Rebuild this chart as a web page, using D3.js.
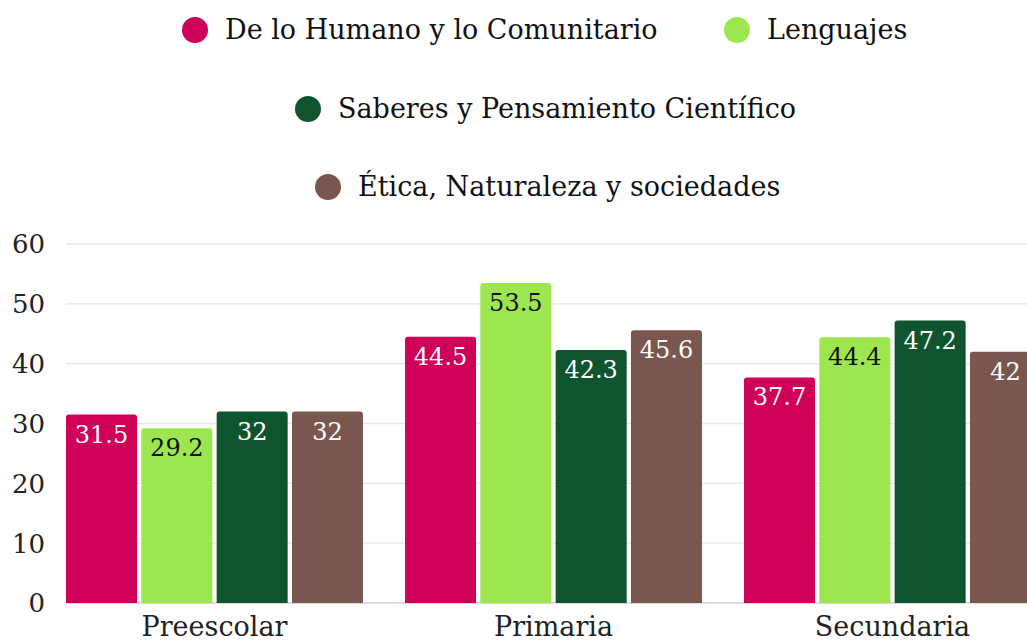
<!DOCTYPE html>
<html>
<head>
  <meta charset="utf-8">
  <title>Campos formativos por nivel</title>
  <style>
    body { margin: 0; background: #fff; }
    svg { display: block; font-family: "DejaVu Serif", serif; }
  </style>
</head>
<body>
  <script src="https://d3js.org/d3.v7.min.js"></script>
  <script>

var levels = ["Preescolar", "Primaria", "Secundaria"];
var series = ["De lo Humano y lo Comunitario", "Lenguajes", "Saberes y Pensamiento Científico", "Ética, Naturaleza y sociedades"];
var humano    = [31.5, 44.5, 37.7];
var lenguajes = [29.2, 53.5, 44.4];
var saberes   = [32, 42.3, 47.2];
var etica     = [32, 45.6, 42];
var yTicks = [0, 10, 20, 30, 40, 50, 60];

var colors = ["#cf0058", "#9de64f", "#0e542f", "#79574f"];
var labelColors = ["#fff", "#111", "#fff", "#fff"];

var W = 1027, H = 641;
var values = [humano, lenguajes, saberes, etica];

var svg = d3.select("body").append("svg")
    .attr("width", W)
    .attr("height", H);

var x0 = d3.scaleBand()
    .domain(levels)
    .range([45, 1062])
    .paddingInner(0.124)
    .paddingOuter(0.062);

var x1 = d3.scaleBand()
    .domain(d3.range(series.length))
    .range([0, x0.bandwidth()])
    .paddingInner(0.057);

var y = d3.scaleLinear()
    .domain([0, 60])
    .range([603, 244]);

// grid
svg.append("g")
  .selectAll("line")
  .data(yTicks)
  .enter().append("line")
    .attr("x1", 66)
    .attr("x2", W)
    .attr("y1", function(d){ return y(d); })
    .attr("y2", function(d){ return y(d); })
    .attr("stroke", function(d){ return d === 0 ? "#cfcfcf" : "#e6e6e6"; })
    .attr("stroke-width", 1.3);

// y labels
svg.append("g")
  .selectAll("text")
  .data(yTicks)
  .enter().append("text")
    .attr("x", 45)
    .attr("y", function(d){ return y(d); })
    .attr("dy", "0.36em")
    .attr("text-anchor", "end")
    .attr("font-size", 26)
    .attr("fill", "#222")
    .text(function(d){ return d; });

// rounded-top bar path
function barPath(x, yTop, w, h, r) {
  return "M" + x + "," + (yTop + h) +
    "V" + (yTop + r) +
    "Q" + x + "," + yTop + " " + (x + r) + "," + yTop +
    "H" + (x + w - r) +
    "Q" + (x + w) + "," + yTop + " " + (x + w) + "," + (yTop + r) +
    "V" + (yTop + h) + "Z";
}

var groups = svg.append("g")
  .selectAll("g")
  .data(levels)
  .enter().append("g")
    .attr("transform", function(d){ return "translate(" + x0(d) + ",0)"; });

groups.each(function(lvl, li) {
  var g = d3.select(this);
  var rows = series.map(function(s, si){ return { si: si, v: values[si][li] }; });

  g.selectAll("path")
    .data(rows)
    .enter().append("path")
      .attr("d", function(d){
        return barPath(x1(d.si), y(d.v), x1.bandwidth(), y(0) - y(d.v), 3);
      })
      .attr("fill", function(d){ return colors[d.si]; });

  g.selectAll("text.val")
    .data(rows)
    .enter().append("text")
      .attr("class", "val")
      .attr("x", function(d){ return x1(d.si) + x1.bandwidth() / 2; })
      .attr("y", function(d){ return y(d.v) + 28; })
      .attr("text-anchor", "middle")
      .attr("font-size", 24)
      .attr("fill", function(d){ return labelColors[d.si]; })
      .text(function(d){ return d.v; });
});

// x labels
svg.append("g")
  .selectAll("text")
  .data(levels)
  .enter().append("text")
    .attr("x", function(d){ return x0(d) + x0.bandwidth() / 2; })
    .attr("y", 636)
    .attr("text-anchor", "middle")
    .attr("font-size", 27)
    .attr("fill", "#222")
    .text(function(d){ return d; });

// legend
var legendPos = [
  { cx: 195, cy: 30 },
  { cx: 737, cy: 30 },
  { cx: 308, cy: 109 },
  { cx: 328, cy: 187 }
];

var leg = svg.append("g")
  .selectAll("g")
  .data(series)
  .enter().append("g")
    .attr("transform", function(d, i){ return "translate(" + legendPos[i].cx + "," + legendPos[i].cy + ")"; });

leg.append("circle")
    .attr("r", 13)
    .attr("fill", function(d, i){ return colors[i]; });

leg.append("text")
    .attr("x", 30)
    .attr("dy", "0.35em")
    .attr("font-size", 27)
    .attr("fill", "#111")
    .text(function(d){ return d; });

  </script>
</body>
</html>
